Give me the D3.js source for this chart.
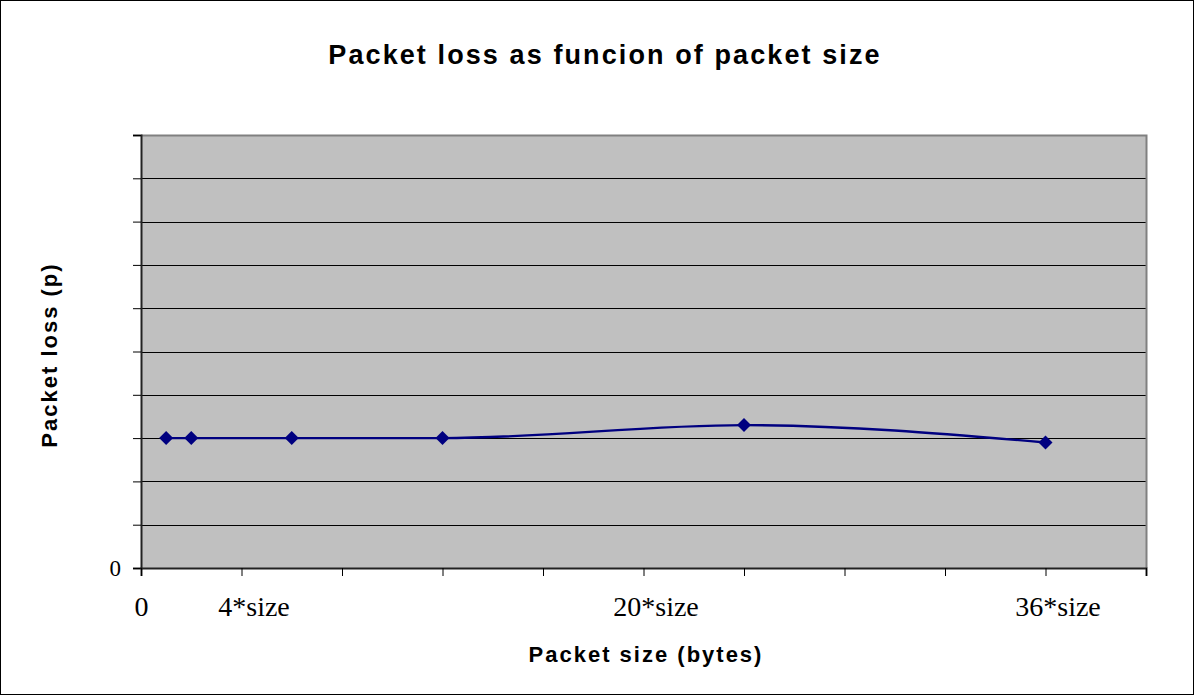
<!DOCTYPE html>
<html>
<head>
<meta charset="utf-8">
<script src="https://cdn.jsdelivr.net/npm/d3@7"></script>
<style>
  html, body { margin: 0; padding: 0; background: #fff; }
  svg { display: block; }
</style>
</head>
<body>
<svg id="chart" width="1194" height="695"></svg>
<script>
// Packet sizes (multiples of the base size) and measured loss
const packetSizes = [1, 2, 6, 12, 24, 36];
const packetLoss = [0.30, 0.30, 0.30, 0.30, 0.33, 0.29];

// Axis ticks
const xTicks = [0, 4, 8, 12, 16, 20, 24, 28, 32, 36, 40];
const xTickLabels = ["0", "4*size", "", "", "", "20*size", "", "", "", "36*size", ""];
const yTicks = [0, 0.1, 0.2, 0.3, 0.4, 0.5, 0.6, 0.7, 0.8, 0.9, 1.0];
const yTickLabels = ["0", "", "", "", "", "", "", "", "", "", ""];

const svg = d3.select("#chart");
const W = 1194, H = 695;
const plot = { left: 141, top: 135, right: 1146, bottom: 568 };

// Outer frame
svg.append("rect")
  .attr("x", 0.5).attr("y", 0.5)
  .attr("width", W - 1).attr("height", H - 1)
  .attr("fill", "#fff").attr("stroke", "#000").attr("stroke-width", 1);

const x = d3.scaleLinear().domain([0, 40]).range([plot.left, plot.right]);
const y = d3.scaleLinear().domain([0, 1]).range([plot.bottom, plot.top]);

// Plot area background
svg.append("rect")
  .attr("x", plot.left).attr("y", plot.top)
  .attr("width", plot.right - plot.left).attr("height", plot.bottom - plot.top)
  .attr("fill", "#c0c0c0");

// Horizontal gridlines
svg.append("g")
  .selectAll("line")
  .data(yTicks.slice(1, -1))
  .join("line")
  .attr("x1", plot.left).attr("x2", plot.right)
  .attr("y1", d => Math.round(y(d)) + 0.5).attr("y2", d => Math.round(y(d)) + 0.5)
  .attr("stroke", "#000").attr("stroke-width", 1);

// Plot border (top and right in grey)
svg.append("path")
  .attr("d", `M${plot.left},${plot.top + 0.5}H${plot.right + 0.5}V${plot.bottom}`)
  .attr("fill", "none").attr("stroke", "#808080").attr("stroke-width", 2);

// Y axis
const yAxis = d3.axisLeft(y)
  .tickValues(yTicks)
  .tickSize(8)
  .tickPadding(12)
  .tickFormat((d, i) => yTickLabels[i]);
const gy = svg.append("g")
  .attr("transform", `translate(${plot.left},0)`)
  .call(yAxis);
gy.select(".domain").attr("stroke", "#222").attr("stroke-width", 2);
gy.selectAll(".tick line").attr("stroke", "#000");
gy.selectAll(".tick text")
  .attr("font-family", "'Liberation Serif', 'Times New Roman', serif")
  .attr("font-size", 23).attr("fill", "#000");

// X axis
const xAxis = d3.axisBottom(x)
  .tickValues(xTicks)
  .tickSize(8)
  .tickPadding(20)
  .tickFormat((d, i) => xTickLabels[i]);
const gx = svg.append("g")
  .attr("transform", `translate(0,${plot.bottom})`)
  .call(xAxis);
gx.select(".domain").attr("stroke", "#222").attr("stroke-width", 2);
gx.selectAll(".tick line").attr("stroke", "#000");
gx.selectAll(".tick text")
  .attr("font-family", "'Liberation Serif', 'Times New Roman', serif")
  .attr("font-size", 28).attr("fill", "#000")
  .attr("dx", d => d === 0 ? 0 : 12);

// Smoothed data line
const pts = packetSizes.map((s, i) => [s, packetLoss[i]]);
const line = d3.line()
  .x(d => x(d[0]))
  .y(d => y(d[1]))
  .curve(d3.curveMonotoneX);
svg.append("path")
  .datum(pts)
  .attr("d", line)
  .attr("fill", "none")
  .attr("stroke", "#000080")
  .attr("stroke-width", 2.4);

// Diamond markers
svg.append("g")
  .selectAll("path")
  .data(pts)
  .join("path")
  .attr("transform", d => `translate(${x(d[0])},${y(d[1])})`)
  .attr("d", "M0,-7L7,0L0,7L-7,0Z")
  .attr("fill", "#000080");

// Titles
svg.append("text")
  .attr("x", 605).attr("y", 64)
  .attr("text-anchor", "middle")
  .attr("font-family", "Arial, 'Liberation Sans', sans-serif")
  .attr("font-weight", "bold").attr("font-size", 27)
  .attr("letter-spacing", 2.1)
  .text("Packet loss as funcion of packet size");

svg.append("text")
  .attr("x", 646).attr("y", 662)
  .attr("text-anchor", "middle")
  .attr("font-family", "Arial, 'Liberation Sans', sans-serif")
  .attr("font-weight", "bold").attr("font-size", 22)
  .attr("letter-spacing", 2)
  .text("Packet size (bytes)");

svg.append("text")
  .attr("transform", "translate(57,355) rotate(-90)")
  .attr("text-anchor", "middle")
  .attr("font-family", "Arial, 'Liberation Sans', sans-serif")
  .attr("font-weight", "bold").attr("font-size", 22)
  .attr("letter-spacing", 2)
  .text("Packet loss (p)");
</script>
</body>
</html>
